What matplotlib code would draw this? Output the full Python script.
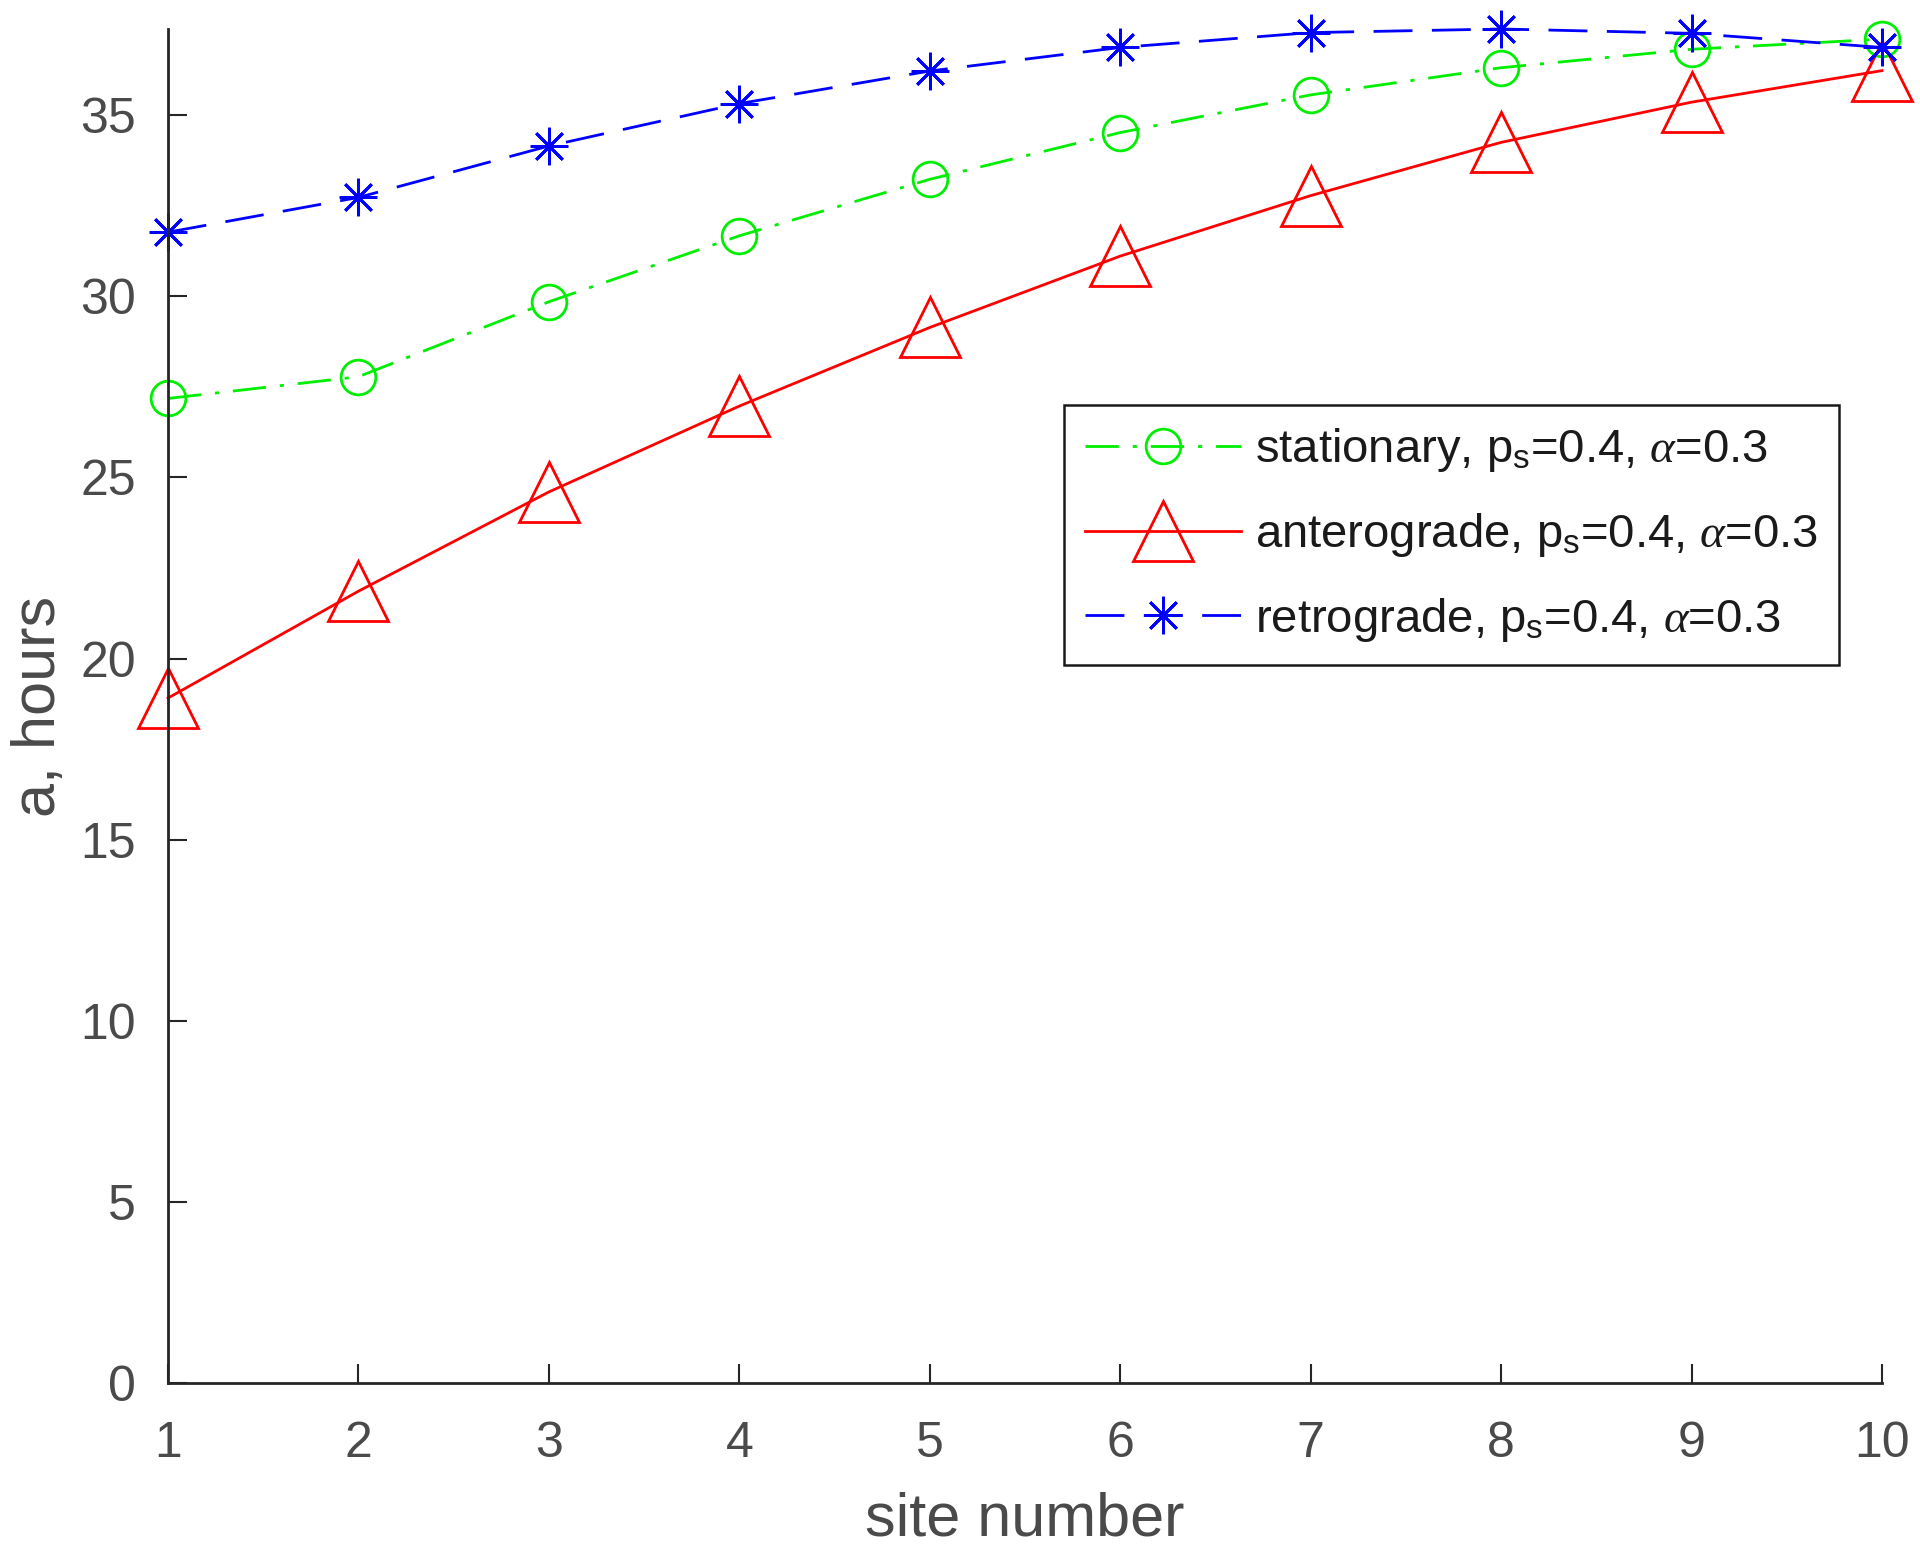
import matplotlib
matplotlib.use("Agg")
import matplotlib.pyplot as plt
import numpy as np

# values
site = [1, 2, 3, 4, 5, 6, 7, 8, 9, 10]
stationary = [27.18, 27.78, 29.85, 31.67, 33.23, 34.52, 35.56, 36.31, 36.82, 37.10]
anterograde = [18.91, 21.86, 24.60, 26.97, 29.14, 31.11, 32.78, 34.25, 35.36, 36.23]
retrograde = [31.77, 32.73, 34.15, 35.32, 36.22, 36.87, 37.28, 37.38, 37.26, 36.87]

labels = [r"stationary, p$_\mathrm{s}$=0.4, $\alpha$=0.3",
          r"anterograde, p$_\mathrm{s}$=0.4, $\alpha$=0.3",
          r"retrograde, p$_\mathrm{s}$=0.4, $\alpha$=0.3"]

plt.rcParams['font.family'] = ['Liberation Sans', 'DejaVu Sans']
plt.rcParams['mathtext.fontset'] = 'custom'
plt.rcParams['mathtext.rm'] = 'Liberation Sans'
plt.rcParams['mathtext.it'] = 'Liberation Serif:italic'
plt.rcParams['xtick.direction'] = 'in'
plt.rcParams['ytick.direction'] = 'in'

fig = plt.figure(figsize=(19.2, 15.5), dpi=100)
ax = fig.add_axes([0.0875, 0.1077, 0.8927, 0.8736])

ax.plot(site, stationary, color='#00ee00', lw=2, ls=(0, (12, 5, 1.5, 5)),
        marker='o', ms=25, mfc='none', mew=2, label=labels[0], clip_on=False)
ax.plot(site, anterograde, color='#ff0000', lw=2, ls='-',
        marker='^', ms=43, mfc='none', mew=2, label=labels[1], clip_on=False)
ax.plot(site, retrograde, color='#0000ff', lw=2, ls=(0, (14, 7)),
        marker=(8, 2, 0), ms=27, mew=2, label=labels[2], clip_on=False)

ax.set_xlim(1, 10)
ax.set_ylim(0, max(max(stationary), max(anterograde), max(retrograde)))
ax.set_xticks(site)
ax.set_yticks(np.arange(0, 36, 5))

# matlab style: box off, ticks inside
for s in ['top', 'right']:
    ax.spines[s].set_visible(False)
for s in ['left', 'bottom']:
    ax.spines[s].set_linewidth(2)
    ax.spines[s].set_color('#262626')
ax.tick_params(axis='both', direction='in', length=14, width=1.5, colors='#262626',
               labelsize=36, labelcolor='#4a4a4a')
ax.tick_params(axis='x', pad=27)
ax.tick_params(axis='y', pad=23)

ax.set_xlabel('site number', fontsize=44, color='#4a4a4a', labelpad=18)
ax.set_ylabel('a, hours', fontsize=44, color='#4a4a4a', labelpad=9)

leg = ax.legend(loc='upper left', bbox_to_anchor=(1064 / 1920, 1 - 405 / 1550),
                bbox_transform=fig.transFigure, borderaxespad=0, fontsize=34,
                handlelength=3.3, fancybox=False, framealpha=1, edgecolor='#1a1a1a',
                borderpad=0.45, labelspacing=0.78, handletextpad=0.3)
leg.get_frame().set_linewidth(1.8)
for t in leg.get_texts():
    t.set_color('#1a1a1a')

fig.savefig('out.png', dpi=100)
